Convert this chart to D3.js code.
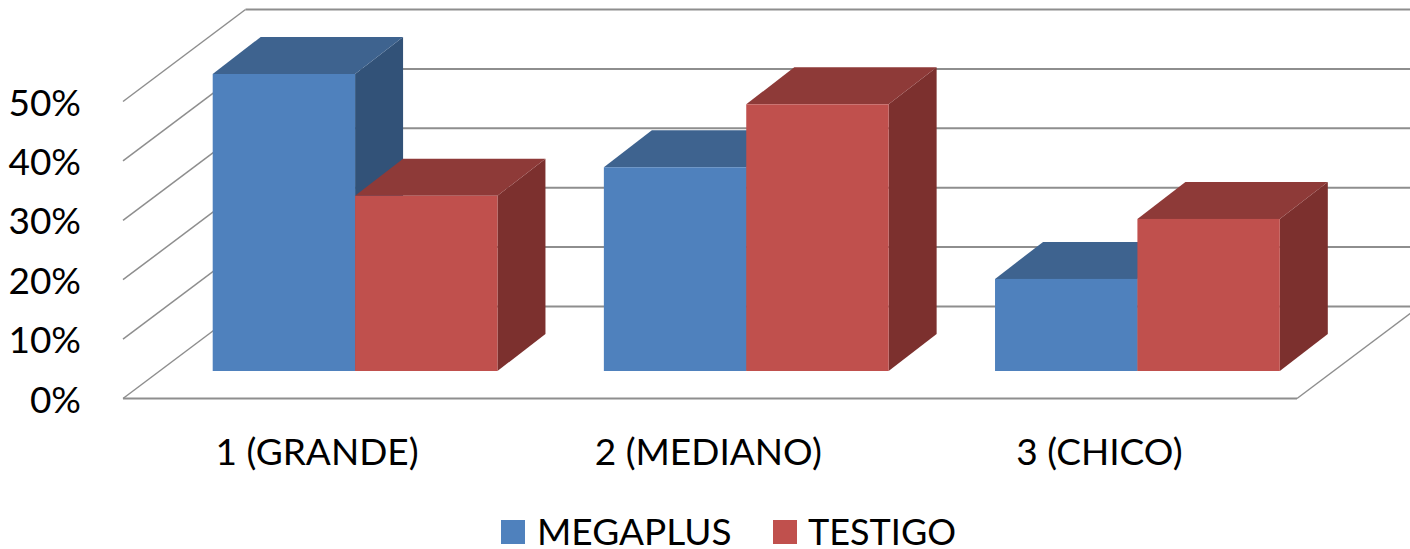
<!DOCTYPE html>
<html>
<head>
<meta charset="utf-8">
<script src="https://cdn.jsdelivr.net/npm/d3@7"></script>
<style>
    html, body { margin: 0; padding: 0; background: #fff; overflow: hidden; }
    text { font-family: Lato, "Open Sans", sans-serif; fill: #000; }
</style>
</head>
<body>
<div id="chart"></div>
<script>
var categories = ['1 (GRANDE)', '2 (MEDIANO)', '3 (CHICO)'];
var seriesNames = ['MEGAPLUS', 'TESTIGO'];
var megaplus = [50, 34.3, 15.5];
var testigo = [29.5, 44.9, 25.6];
var yTicks = [0, 10, 20, 30, 40, 50];

var colors = {
    MEGAPLUS: { front: '#4f81bd', top: '#3e638f', side: '#325278' },
    TESTIGO: { front: '#c0504d', top: '#8e3a38', side: '#7c302e' }
};

var width = 1410;
var height = 549;
var fontSize = 37;

// floor corners and the depth of the fake 3d box
var floorLeft = 123;
var floorRight = 1297;
var depthX = 122.5;
var depthY = 92;
var barDepthX = 48;
var barDepthY = 37;

var svg = d3.select('#chart').append('svg')
    .attr('width', width)
    .attr('height', height)
    .style('display', 'block');

var yWall = d3.scaleLinear().domain([0, 50]).range([398.5, 101.5]);
var yBar = d3.scaleLinear().domain([0, 50]).range([371, 74]);

var x = d3.scaleBand()
    .domain(categories)
    .range([159.5, 1333])
    .paddingInner(0.272)
    .paddingOuter(0.136);
var xSeries = d3.scaleBand()
    .domain(seriesNames)
    .range([0, x.bandwidth()]);

// grid: side wall is a bit thinner than the back wall
var grid = svg.append('g').attr('fill', 'none').attr('stroke', '#8e8e8e');

grid.selectAll('path.side')
    .data(yTicks)
    .enter().append('path')
    .attr('class', 'side')
    .attr('stroke-width', 1.5)
    .attr('d', function(d) {
        return d3.line()([
            [floorLeft, yWall(d)],
            [floorLeft + depthX, yWall(d) - depthY]
        ]);
    });

grid.selectAll('path.back')
    .data(yTicks)
    .enter().append('path')
    .attr('class', 'back')
    .attr('stroke-width', 2)
    .attr('d', function(d) {
        return d3.line()([
            [floorLeft + depthX, yWall(d) - depthY],
            [floorRight + depthX, yWall(d) - depthY]
        ]);
    });

grid.append('path')
    .attr('stroke-width', 2)
    .attr('d', d3.line()([
        [floorLeft, yWall(0)],
        [floorRight, yWall(0)]
    ]));

grid.append('path')
    .attr('stroke-width', 1.5)
    .attr('d', d3.line()([
        [floorRight, yWall(0)],
        [floorRight + depthX, yWall(0) - depthY]
    ]));

// bars
var bars = [];
categories.forEach(function(category, i) {
    bars.push({ category: category, series: 'MEGAPLUS', value: megaplus[i] });
    bars.push({ category: category, series: 'TESTIGO', value: testigo[i] });
});

var bar = svg.append('g').selectAll('g')
    .data(bars)
    .enter().append('g');

bar.append('path')
    .attr('fill', function(d) { return colors[d.series].side; })
    .attr('d', function(d) {
        var right = x(d.category) + xSeries(d.series) + xSeries.bandwidth();
        return d3.line()([
            [right, yBar(d.value)],
            [right + barDepthX, yBar(d.value) - barDepthY],
            [right + barDepthX, yBar(0) - barDepthY],
            [right, yBar(0)]
        ]) + 'Z';
    });

bar.append('path')
    .attr('fill', function(d) { return colors[d.series].top; })
    .attr('d', function(d) {
        var left = x(d.category) + xSeries(d.series);
        var right = left + xSeries.bandwidth();
        return d3.line()([
            [left, yBar(d.value)],
            [left + barDepthX, yBar(d.value) - barDepthY],
            [right + barDepthX, yBar(d.value) - barDepthY],
            [right, yBar(d.value)]
        ]) + 'Z';
    });

bar.append('rect')
    .attr('fill', function(d) { return colors[d.series].front; })
    .attr('x', function(d) { return x(d.category) + xSeries(d.series); })
    .attr('y', function(d) { return yBar(d.value); })
    .attr('width', xSeries.bandwidth())
    .attr('height', function(d) { return yBar(0) - yBar(d.value); });

// y axis labels
var yAxis = svg.append('g')
    .attr('transform', 'translate(81,0)')
    .call(d3.axisLeft(yWall)
        .tickValues(yTicks)
        .tickSize(0)
        .tickPadding(0)
        .tickFormat(function(d) { return d + '%'; }));
yAxis.select('.domain').remove();
yAxis.selectAll('text')
    .attr('dy', null)
    .attr('y', 13.5)
    .style('font-size', fontSize + 'px');

// category labels sit on the floor's front edge, so they are shifted back left
var xAxis = svg.append('g')
    .attr('transform', 'translate(-38,465)')
    .call(d3.axisBottom(x).tickSize(0).tickPadding(0));
xAxis.select('.domain').remove();
xAxis.selectAll('text')
    .attr('dy', null)
    .attr('y', 0)
    .style('font-size', fontSize + 'px');

// legend
var legendX = d3.scaleOrdinal().domain(seriesNames).range([501, 773]);
var legend = svg.append('g').selectAll('g')
    .data(seriesNames)
    .enter().append('g')
    .attr('transform', function(d) { return 'translate(' + legendX(d) + ',520)'; });

legend.append('rect')
    .attr('width', 24)
    .attr('height', 24)
    .attr('fill', function(d) { return colors[d].front; });

legend.append('text')
    .attr('x', function(d) { return d === 'TESTIGO' ? 35 : 36; })
    .attr('y', 25)
    .style('font-size', function(d) { return (d === 'TESTIGO' ? 36 : fontSize) + 'px'; })
    .text(function(d) { return d; });
</script>
</body>
</html>
